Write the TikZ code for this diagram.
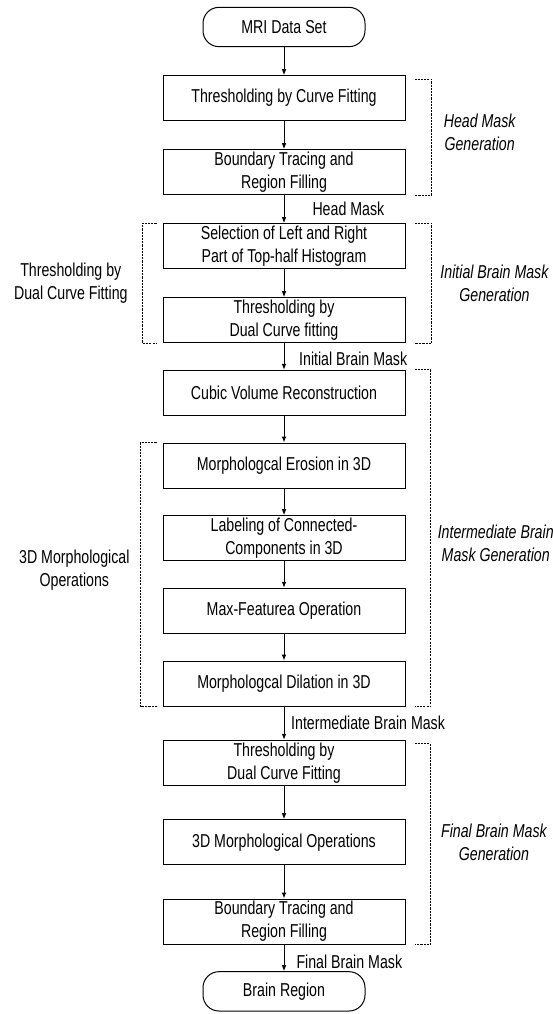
\documentclass[tikz,border=0pt]{standalone}
\usepackage{fontspec}
\setmainfont{Liberation Sans}[FakeStretch=0.76]
\usetikzlibrary{arrows.meta,positioning,calc}

\begin{document}
\begin{tikzpicture}[x=0.75pt,y=-0.75pt,node distance=20pt,>={Latex[length=4.5pt,width=3.5pt]}]
  \tikzset{procbox/.style={draw, line width=0.75pt, minimum width=181.5pt, minimum height=33.75pt, inner sep=1pt, align=center, font=\fontsize{14}{17.25}\selectfont},
    termbox/.style={procbox, rounded corners=12pt, minimum width=121.5pt, minimum height=29.5pt},
    bracketline/.style={line width=0.6pt, dash pattern=on 1.6pt off 0.8pt},
    grouplabel/.style={inner sep=0pt, align=center, font=\fontsize{14}{17.25}\selectfont},
    phaselabel/.style={grouplabel, font=\fontsize{14}{17.25}\selectfont\itshape},
    masklabel/.style={right, inner sep=0pt, font=\fontsize{14}{17.25}\selectfont}}
  \useasboundingbox (0,0) rectangle (553,1014);
  % main flow
  \node[termbox] (mri) at (284,27) {MRI Data Set};
  \node[procbox, below=21pt of mri] (b1) {Thresholding by Curve Fitting};
  \node[procbox, below=21pt of b1] (b2) {Boundary Tracing and\\Region Filling};
  \node[procbox, below=21pt of b2] (b3) {Selection of Left and Right\\Part of Top-half Histogram};
  \node[procbox, below=21pt of b3] (b4) {Thresholding by\\Dual Curve fitting};
  \node[procbox, below=of b4] (b5) {Cubic Volume Reconstruction};
  \node[procbox, below=of b5] (b6) {Morphologcal Erosion in 3D};
  \node[procbox, below=of b6] (b7) {Labeling of Connected-\\Components in 3D};
  \node[procbox, below=of b7] (b8) {Max-Featurea Operation};
  \node[procbox, below=of b8] (b9) {Morphologcal Dilation in 3D};
  \node[procbox, below=25pt of b9] (b10) {Thresholding by\\Dual Curve Fitting};
  \node[procbox, below=25pt of b10] (b11) {3D Morphological Operations};
  \node[procbox, below=25pt of b11] (b12) {Boundary Tracing and\\Region Filling};
  \node[termbox, below=of b12] (br) {Brain Region};
  \foreach \a/\b in {mri/b1,b1/b2,b3/b4,b5/b6,b6/b7,b7/b8,b8/b9,b10/b11,b11/b12}{\draw[->,line width=0.75pt] (\a) -- (\b);}
  \draw[->,line width=0.75pt] (b2) -- node[masklabel,xshift=21pt] {Head Mask} (b3);
  \draw[->,line width=0.75pt] (b4) -- node[masklabel,xshift=11pt,yshift=-1.5pt] {Initial Brain Mask} (b5);
  \draw[->,line width=0.75pt] (b9) -- node[masklabel,xshift=5pt] {Intermediate Brain Mask} (b10);
  \draw[->,line width=0.75pt] (b12) -- node[masklabel,xshift=9pt,yshift=-3pt] {Final Brain Mask} (br);
  % right brackets
  \draw[bracketline] ($(b1.north east)+(6.75pt,-3pt)$) -| ($(b2.south east)+(19.5pt,0)$) -- ($(b2.south east)+(6.75pt,0)$);
  \draw[bracketline] ($(b3.north east)+(6.75pt,0)$) -| ($(b4.south east)+(19.5pt,0)$) -- ($(b4.south east)+(6.75pt,0)$);
  \draw[bracketline] ($(b5.north east)+(6.75pt,0)$) -| ($(b9.south east)+(19pt,0)$) -- ($(b9.south east)+(6.75pt,0)$);
  \draw[bracketline] ($(b10.north east)+(6.75pt,-3pt)$) -| ($(b12.south east)+(18.5pt,0)$) -- ($(b12.south east)+(6.75pt,0)$);
  \coordinate (headmid) at ($(b1.north east)!0.5!(b2.south east)+(19.5pt,0)$);
  \coordinate (initmid) at ($(b3.north east)!0.5!(b4.south east)+(19.5pt,0)$);
  \coordinate (intermid) at ($(b5.north east)!0.5!(b9.south east)+(19pt,0)$);
  \coordinate (finalmid) at ($(b10.north east)!0.5!(b12.south east)+(18.5pt,0)$);
  \node[phaselabel, right=9pt of headmid, yshift=2pt] (headgen) {Head Mask\\Generation};
  \node[phaselabel, right=6.5pt of initmid] (initgen) {Initial Brain Mask\\Generation};
  \node[phaselabel, right=5pt of intermid, yshift=-4pt] (intergen) {Intermediate Brain\\Mask Generation};
  \node[phaselabel, right=8pt of finalmid] (finalgen) {Final Brain Mask\\Generation};
  % left brackets
  \draw[bracketline] ($(b3.north west)+(-4.5pt,0)$) -| ($(b4.south west)+(-15pt,0)$) -- ($(b4.south west)+(-4.5pt,0)$);
  \draw[bracketline] ($(b6.north west)+(-4.5pt,0)$) -| ($(b9.south west)+(-16.5pt,0)$) -- ($(b9.south west)+(-4.5pt,0)$);
  \coordinate (dualmid) at ($(b3.north west)!0.5!(b4.south west)+(-15pt,0)$);
  \coordinate (morphmid) at ($(b6.north west)!0.5!(b9.south west)+(-16.5pt,0)$);
  \node[grouplabel, left=11pt of dualmid] (dualgrp) {Thresholding by\\Dual Curve Fitting};
  \node[grouplabel, left=8pt of morphmid, yshift=3pt] (morphgrp) {3D Morphological\\Operations};
\end{tikzpicture}
\end{document}
